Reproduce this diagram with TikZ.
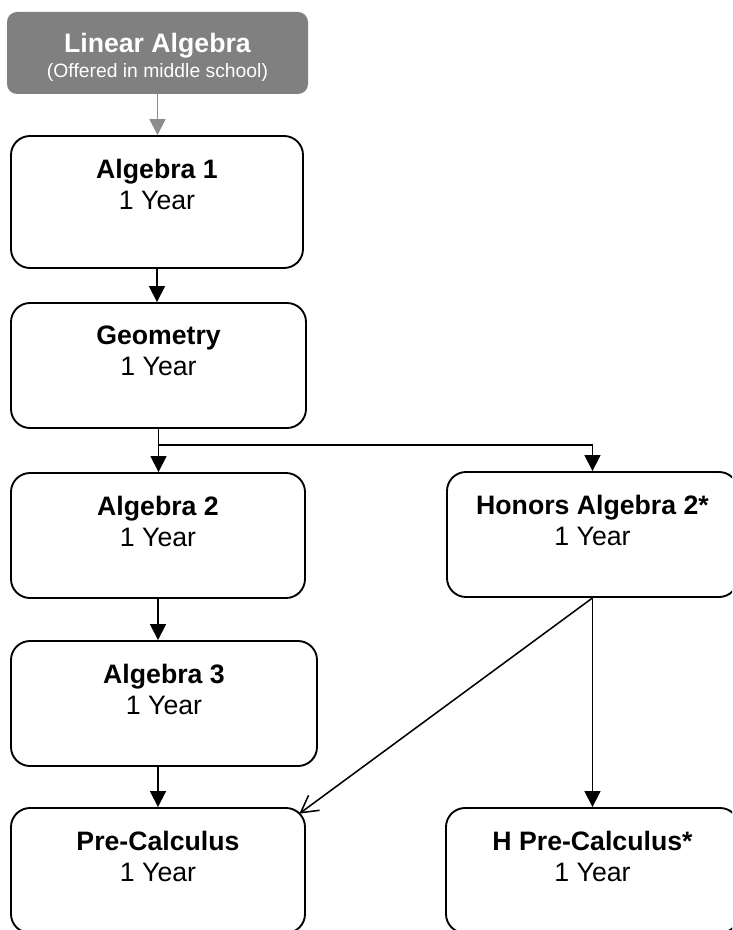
\documentclass[tikz,border=0pt]{standalone}
\usepackage{fontspec}
\setmainfont{Liberation Sans}
\usetikzlibrary{arrows.meta}
\definecolor{boxgray}{RGB}{128,128,128}
\definecolor{arrowgray}{RGB}{140,140,140}

\begin{document}
\begin{tikzpicture}[x=0.75pt,y=-0.75pt]
	\tikzstyle{course}=[rectangle,draw,line width=1.4pt,rounded corners=14.25pt,minimum width=220.5pt,minimum height=93.75pt]
	\tikzstyle{start}=[rectangle,fill=boxgray,rounded corners=7.5pt,minimum width=225.75pt,minimum height=61.5pt]
	\tikzstyle{coursename}=[anchor=north,align=center,inner sep=0pt,yshift=-17.9pt,font=\fontsize{20}{23.25}\selectfont]
	\tikzstyle{next}=[-{Triangle[length=12pt,width=12pt]},line width=1.15pt]
	\tikzstyle{option}=[-{Straight Barb[length=12.5pt,width=14pt]},line width=1.15pt]
	
	\useasboundingbox (0,0) rectangle (732,930);
	\clip (0,0) rectangle (732,930);
	
	\node [start,label={[coursename,text=white,yshift=2.1pt,font=\fontsize{20}{18.75}\selectfont]north:{\textbf{Linear Algebra}\\{\fontsize{14.5}{17}\selectfont (Offered in middle school)}}}] (linear) at (157.5,53) {};
	\node [course,minimum width=219pt,minimum height=99pt,label={[coursename]north:{\textbf{Algebra 1}\\1 Year}}] (alg1) at (157,202) {};
	\node [course,minimum width=221.25pt,label={[coursename]north:{\textbf{Geometry}\\1 Year}}] (geo) at (158.5,365.5) {};
	\node [course,label={[coursename]north:{\textbf{Algebra 2}\\1 Year}}] (alg2) at (158,535.5) {};
	\node [course,minimum width=218.25pt,label={[coursename]north:{\textbf{Honors Algebra 2*}\\1 Year}}] (hon) at (592.5,534.5) {};
	\node [course,minimum width=229.5pt,label={[coursename]north:{\textbf{Algebra 3}\\1 Year}}] (alg3) at (164,703.5) {};
	\node [course,label={[coursename]north:{\textbf{Pre-Calculus}\\1 Year}}] (pre) at (158,870.5) {};
	\node [course,minimum width=219.75pt,label={[coursename]north:{\textbf{H Pre-Calculus*}\\1 Year}}] (hpre) at (592.5,870.5) {};
	
	% where the lines meet the boxes
	\coordinate (split) at ([yshift=-12pt]geo.south);
	\coordinate (prearc) at ([xshift=-4.9pt,yshift=-4.9pt]pre.north east);
	
	\draw [next,arrowgray] (linear.south) -- (linear.south |- alg1.north);
	\draw [next] (alg1.south) -- (alg1.south |- geo.north);
	\draw [next] (geo.south) -- (geo.south |- alg2.north);
	\draw [next] (split) -| (hon.north);
	\draw [next] (alg2.south) -- (alg2.south |- alg3.north);
	\draw [next] (pre.north |- alg3.south) -- (pre.north);
	\draw [next] (hon.south) -- (hpre.north);
	\draw [option] (hon.south) -- (prearc);
\end{tikzpicture}
\end{document}
